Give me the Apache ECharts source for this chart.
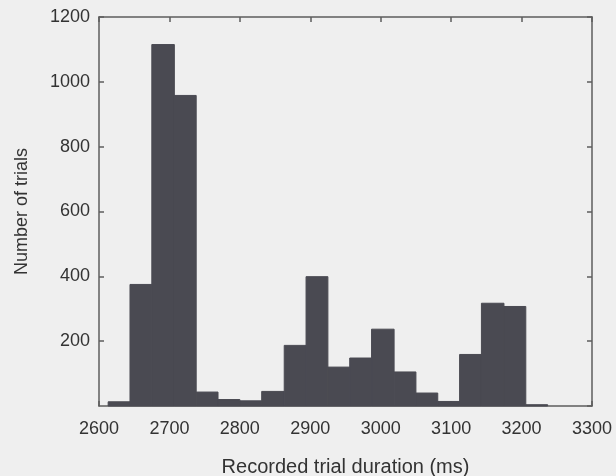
<!DOCTYPE html>
<html>
<head>
<meta charset="utf-8">
<script src="https://cdn.jsdelivr.net/npm/echarts@6/dist/echarts.min.js"></script>
<style>
html,body{margin:0;padding:0;background:#efefef;}
#chart{width:616px;height:476px;}
</style>
</head>
<body>
<div id="chart"></div>
<script>
// Histogram bin edges (ms) and counts
const binEdges = [2613, 2644, 2675, 2707, 2738, 2769, 2800, 2831, 2863, 2894, 2925,
                  2956, 2987, 3019, 3050, 3081, 3112, 3143, 3175, 3206, 3237];
const counts = [13, 375, 1115, 958, 43, 20, 16, 45, 187, 399,
                120, 148, 237, 105, 40, 14, 159, 317, 307, 4];
const xTicks = [2600, 2700, 2800, 2900, 3000, 3100, 3200, 3300];
const yTicks = [0, 200, 400, 600, 800, 1000, 1200];

const barColor = '#4a4a52';
const axisColor = '#5e5e5e';
const textColor = '#333333';
const font = '"Liberation Sans", Arial, sans-serif';

const data = counts.map((c, i) => [binEdges[i], binEdges[i + 1], c]);

const chart = echarts.init(document.getElementById('chart'));

const xBase = {
  type: 'value',
  min: xTicks[0], max: xTicks[xTicks.length - 1], interval: 100,
  splitLine: {show: false},
  axisLine: {show: true, onZero: false, lineStyle: {color: axisColor, width: 1.5}},
  axisTick: {show: true, inside: true, length: 5, lineStyle: {color: axisColor, width: 1.5}}
};
const yBase = {
  type: 'value',
  min: yTicks[0], max: yTicks[yTicks.length - 1], interval: 200,
  splitLine: {show: false},
  axisLine: {show: true, onZero: false, lineStyle: {color: axisColor, width: 1.5}},
  axisTick: {show: true, inside: true, length: 5, lineStyle: {color: axisColor, width: 1.5}}
};

chart.setOption({
  backgroundColor: '#efefef',
  animation: false,
  grid: {left: 99, right: 24, top: 17, bottom: 70, containLabel: false, outerBoundsMode: 'none'},
  xAxis: [
    Object.assign({}, xBase, {
      position: 'bottom',
      name: 'Recorded trial duration (ms)',
      nameLocation: 'middle', nameGap: 51,
      nameTextStyle: {color: textColor, fontSize: 20, fontFamily: font},
      axisLabel: {color: textColor, fontSize: 18, fontFamily: font, margin: 14,
                  formatter: function (v) { return String(v); }}
    }),
    Object.assign({}, xBase, {position: 'top', axisLabel: {show: false}})
  ],
  yAxis: [
    Object.assign({}, yBase, {
      position: 'left',
      name: 'Number of trials',
      nameLocation: 'middle', nameGap: 68,
      nameTextStyle: {color: textColor, fontSize: 18, fontFamily: font},
      axisLabel: {color: textColor, fontSize: 18, fontFamily: font, margin: 9, showMinLabel: false,
                  formatter: function (v) { return String(v); }}
    }),
    Object.assign({}, yBase, {position: 'right', axisLabel: {show: false}})
  ],
  series: [{
    type: 'custom',
    xAxisIndex: 0, yAxisIndex: 0,
    data: data,
    encode: {x: [0, 1], y: 2},
    renderItem: function (params, api) {
      const p0 = api.coord([api.value(0), 0]);
      const p1 = api.coord([api.value(1), api.value(2)]);
      return {
        type: 'rect',
        shape: {x: p0[0], y: p1[1], width: p1[0] - p0[0], height: p0[1] - p1[1]},
        style: {fill: barColor, stroke: barColor, lineWidth: 1}
      };
    }
  }]
});
</script>
</body>
</html>
